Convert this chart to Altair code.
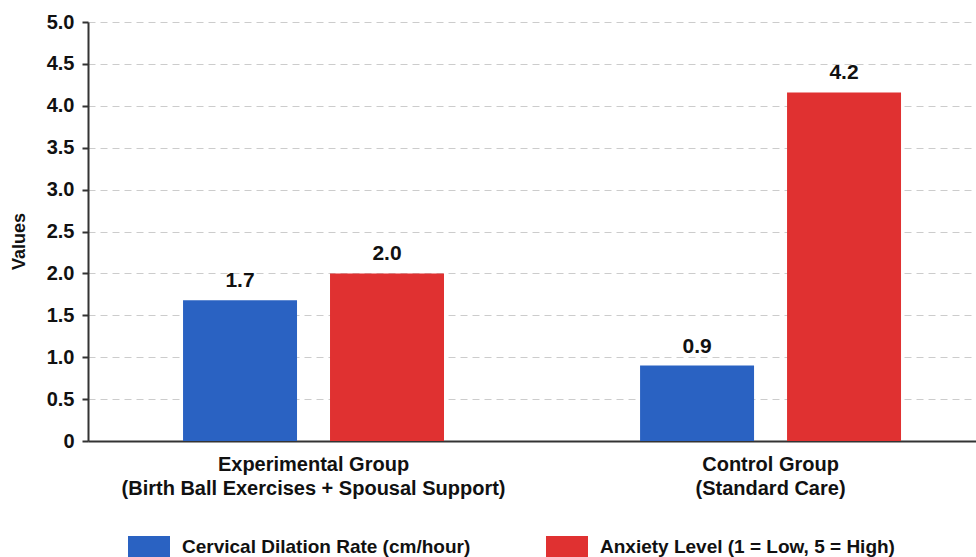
import altair as alt
import pandas as pd

group_titles = ["Experimental Group", "Control Group"]
group_subtitles = ["(Birth Ball Exercises + Spousal Support)", "(Standard Care)"]
series_names = ["Cervical Dilation Rate (cm/hour)", "Anxiety Level (1 = Low, 5 = High)"]
dilation_values = [1.68, 0.90]
anxiety_values = [2.00, 4.16]
series_colors = ["#2A62C2", "#E03131"]
y_ticks = [0, 0.5, 1.0, 1.5, 2.0, 2.5, 3.0, 3.5, 4.0, 4.5, 5.0]

group_keys = [t + "|" + s for t, s in zip(group_titles, group_subtitles)]
rows = []
for i, g in enumerate(group_keys):
    rows.append({"group": g, "series": series_names[0], "value": dilation_values[i]})
    rows.append({"group": g, "series": series_names[1], "value": anxiety_values[i]})
df = pd.DataFrame(rows)

FONT = "Liberation Sans"

x_enc = alt.X(
    "group:N",
    sort=group_keys,
    scale=alt.Scale(paddingInner=0.429, paddingOuter=0.186, align=0.559),
    axis=alt.Axis(
        title=None,
        labelAngle=0,
        labelExpr="split(datum.label, '|')",
        labelFont=FONT,
        labelFontSize=20,
        labelFontWeight="bold",
        labelColor="#111111",
        labelLineHeight=24,
        labelPadding=13,
        labelLimit=0,
        ticks=False,
        domainColor="#333333",
        domainWidth=2,
        grid=False,
    ),
)
xoff_enc = alt.XOffset(
    "series:N",
    sort=series_names,
    scale=alt.Scale(paddingInner=0.2245, paddingOuter=0),
)
y_enc = alt.Y(
    "value:Q",
    scale=alt.Scale(domain=[0, 5], nice=False),
    axis=alt.Axis(
        title="Values",
        titleFont=FONT,
        titleFontSize=18,
        titleFontWeight="bold",
        titleColor="#111111",
        titleX=-60,
        titleY=219,
        titleAngle=270,
        values=y_ticks,
        labelExpr="datum.value == 0 ? '0' : format(datum.value, '.1f')",
        labelFont=FONT,
        labelFontSize=20,
        labelFontWeight="bold",
        labelColor="#111111",
        labelPadding=8,
        tickSize=6,
        tickColor="#333333",
        tickWidth=2,
        domainColor="#333333",
        domainWidth=2,
        grid=True,
        gridColor="#cccccc",
        gridDash=[7, 5],
        gridWidth=1,
    ),
)

base = alt.Chart(df)

bars = base.mark_bar().encode(
    x=x_enc,
    xOffset=xoff_enc,
    y=y_enc,
    color=alt.Color(
        "series:N",
        sort=series_names,
        scale=alt.Scale(domain=series_names, range=series_colors),
        legend=alt.Legend(
            title=None,
            orient="none",
            direction="horizontal",
            legendX=40,
            legendY=504,
            symbolType="M-1,-0.52H1V0.52H-1Z",
            symbolSize=1764,
            symbolStrokeWidth=0,
            symbolOpacity=1,
            labelFont=FONT,
            labelFontSize=19,
            labelFontWeight="bold",
            labelColor="#111111",
            labelOffset=12,
            labelLimit=0,
            columnPadding=75,
        ),
    ),
)

labels = base.mark_text(
    baseline="bottom",
    dy=-9,
    font=FONT,
    fontSize=21,
    fontWeight="bold",
    color="#111111",
).encode(
    x=x_enc,
    xOffset=xoff_enc,
    y=alt.Y("value:Q"),
    text=alt.Text("value:Q", format=".1f"),
)

chart = (
    alt.layer(bars, labels)
    .properties(
        width=888,
        height=419,
        autosize=alt.AutoSizeParams(type="none"),
        padding={"left": 88, "top": 22, "right": 0, "bottom": 116},
        background="white",
    )
    .configure_view(stroke=None)
)

chart.save("out.html", embed_options={"renderer": "svg", "actions": False})
